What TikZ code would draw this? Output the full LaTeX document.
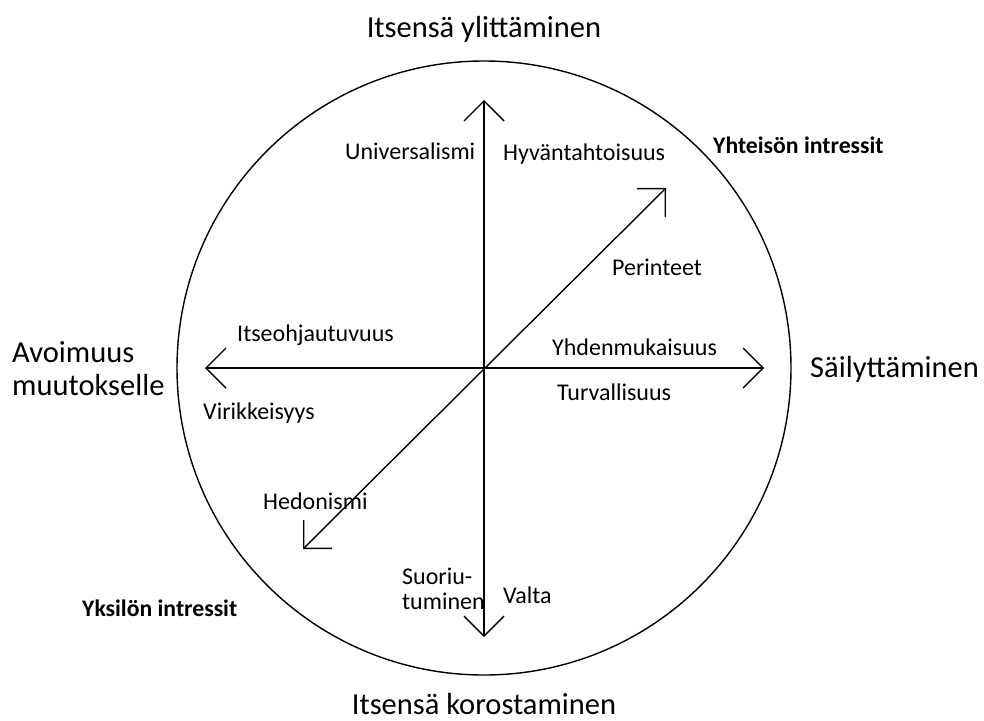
\documentclass[tikz,border=0pt]{standalone}
\usepackage{fontspec}
\setmainfont{Carlito}
\usetikzlibrary{arrows.meta}
\begin{document}
\begin{tikzpicture}[x=1pt,y=-1pt,
  big/.style={font=\fontsize{30.5}{33}\selectfont, inner sep=0pt, anchor=base west, align=left},
  lbl/.style={font=\fontsize{24}{25}\selectfont, inner sep=0pt, anchor=base west, align=left},
  blbl/.style={font=\fontsize{23.7}{25}\selectfont\bfseries, inner sep=0pt, anchor=base west},
  axis/.style={line width=1.4pt, {Straight Barb[length=20pt,width=40pt]}-{Straight Barb[length=20pt,width=40pt]}},
  ring/.style={line width=1.4pt}]
\useasboundingbox (0,0) rectangle (984,720);
\coordinate (c) at (484,368);
\coordinate (n) at (484,100);
\coordinate (s) at (484,637);
\coordinate (w) at (205,368);
\coordinate (e) at (764,368);
\coordinate (ne) at (666,188);
\coordinate (sw) at (303,549);
\draw[ring] (c) circle[radius=307];
\draw[axis] (s) -- (n);
\draw[axis] (w) -- (e);
\draw[axis] (sw) -- (ne);
% outer labels
\node[big, anchor=base] (top) at (484,37) {Itsensä ylittäminen};
\node[big, anchor=base, text depth=0pt] (bot) at (484,714) {Itsensä korostaminen};
\node[big] (left) at (12,395) {Avoimuus\\muutokselle};
\node[big] (right) at (810,377) {Säilyttäminen};
\node[blbl] (yht) at (713,153) {Yhteisön intressit};
\node[blbl] (yks) at (82,616) {Yksilön intressit};
% inner labels
\node[lbl] (uni) at (345,159) {Universalismi};
\node[lbl] (hyv) at (503,160) {Hyväntahtoisuus};
\node[lbl] (per) at (612,275) {Perinteet};
\node[lbl] (its) at (237,341) {Itseohjautuvuus};
\node[lbl] (yhd) at (552,355) {Yhdenmukaisuus};
\node[lbl] (tur) at (557,400) {Turvallisuus};
\node[lbl] (vir) at (203,419) {Virikkeisyys};
\node[lbl] (hed) at (263,509) {Hedonismi};
\node[lbl] (suo) at (402,609) {Suoriu-\\tuminen};
\node[lbl] (val) at (503,603) {Valta};
\end{tikzpicture}
\end{document}
